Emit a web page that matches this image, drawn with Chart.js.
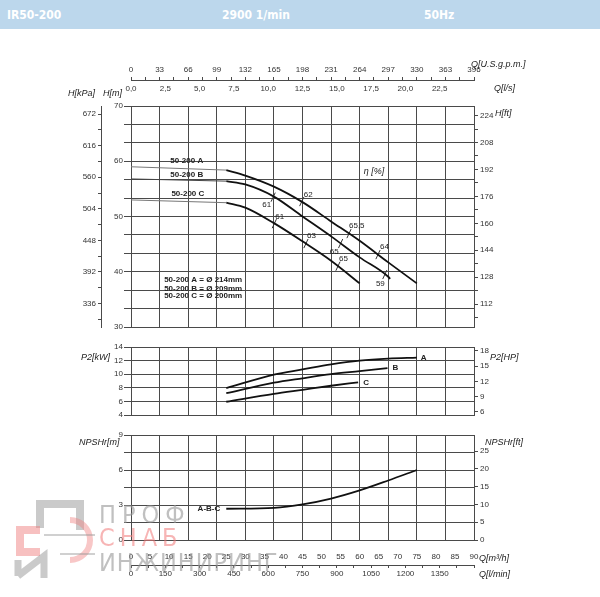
<!DOCTYPE html>
<html>
<head>
<meta charset="utf-8">
<script src="https://cdn.jsdelivr.net/npm/chart.js@4.4.0/dist/chart.umd.min.js"></script>
<style>
body { margin: 0; width: 600px; height: 597px; position: relative; background: #fff; overflow: hidden; }
#head { position: absolute; left: 0; top: 0; width: 600px; height: 29px; background: #bcd7ec; color: #fff;
        font: bold 12px "DejaVu Sans Condensed", "DejaVu Sans", sans-serif; }
#head span { position: absolute; top: 8px; }
canvas { position: absolute; left: 0; }
#wm { position: absolute; left: 0; top: 490px; width: 300px; height: 107px; pointer-events: none; }
#wm div { position: absolute; left: 99px; font: 25px "DejaVu Sans Condensed", "DejaVu Sans", sans-serif; line-height: 25px; }
</style>
</head>
<body>
<div id="head"><span style="left:7px">IR50-200</span><span style="left:222px">2900 1/min</span><span style="left:424px">50Hz</span></div>
<canvas id="cH" width="600" height="305" style="top:30px"></canvas>
<canvas id="cP" width="600" height="90" style="top:335px"></canvas>
<canvas id="cN" width="600" height="172" style="top:425px"></canvas>
<div id="wm">
  <svg width="100" height="107" style="position:absolute;left:0;top:0">
    <path d="M40 38 V14 H80 V40" fill="none" stroke="rgba(150,150,150,0.5)" stroke-width="8"/>
    <path d="M40 40 H20 V62 H40" fill="none" stroke="rgba(240,130,130,0.5)" stroke-width="8"/>
    <path d="M70 30 A16 16 0 1 1 70 70" fill="none" stroke="rgba(240,130,130,0.45)" stroke-width="6"/>
    <path d="M18 86 V70 M18 86 L44 66 V88" fill="none" stroke="rgba(150,150,150,0.5)" stroke-width="7"/>
    <path d="M44 45 H95 M60 64 H95" stroke="rgba(150,150,150,0.45)" stroke-width="2"/>
  </svg>
  <div style="top:12px;color:rgba(150,150,150,0.6);letter-spacing:6px">ПРОФ</div>
  <div style="top:35px;color:rgba(240,120,120,0.55);letter-spacing:5px">СНАБ</div>
  <div style="top:60px;color:rgba(150,150,150,0.6);letter-spacing:1px">ИНЖИНИРИНГ</div>
</div>
<script>
// ---- data (Q in m3/h) ----
var hShutoff = [59.0, 56.8, 53.0];          // H at Q=0 for A, B, C (thin part)

var qCurveA = [25, 30, 37.5, 45, 52.5, 60, 67.5, 75];
var hCurveA = [58.4, 57.4, 55.4, 52.6, 49.1, 45.6, 41.7, 37.9];
var qCurveB = [25, 30, 37.5, 45, 52.5, 60, 67.5, 68];
var hCurveB = [56.4, 55.8, 53.6, 50.0, 46.4, 42.6, 39.1, 38.7];
var qCurveC = [25, 30, 37.5, 45, 52.5, 60];
var hCurveC = [52.5, 51.6, 48.8, 45.5, 42.0, 37.9];

var effQ = [44.8, 57.2, 64.8, 37.3, 55.0, 66.6, 37.6, 45.9, 54.3];
var effH = [52.7, 46.9, 43.1, 53.5, 45.1, 39.5, 48.7, 45.1, 41.0];
var effText = ['62', '65,5', '64', '61', '65', '59', '61', '63', '65'];

var qPowerA = [25, 37.5, 45, 52.5, 60, 67.5, 75];
var pPowerA = [7.95, 9.95, 10.7, 11.45, 12.0, 12.3, 12.45];
var qPowerB = [25, 37.5, 45, 52.5, 60, 67.3];
var pPowerB = [7.2, 8.75, 9.4, 10.0, 10.45, 10.9];
var qPowerC = [25, 37.5, 45, 52.5, 59.6];
var pPowerC = [5.95, 7.1, 7.7, 8.3, 8.8];

var qNpsh = [25, 37.5, 45, 52.5, 60, 67.5, 75];
var nNpsh = [2.68, 2.76, 3.05, 3.55, 4.25, 5.1, 6.0];

var curveNames = ['50-200 A', '50-200 B', '50-200 C'];
var diameters = ['50-200 A = Ø 214mm', '50-200 B = Ø 209mm', '50-200 C = Ø 200mm'];

// ---- helpers ----
Chart.defaults.font.family = '"Liberation Sans", Arial, sans-serif';
Chart.defaults.font.size = 8;
Chart.defaults.color = '#333';
var GRID = '#4a4a4a';
var FONT = '"Liberation Sans", Arial, sans-serif';

function pts(xs, ys) { return xs.map(function (x, i) { return { x: x, y: ys[i] }; }); }
function range(a, b, st) { var r = []; for (var i = 0; a + i * st <= b + 1e-9; i++) r.push(+(a + i * st).toFixed(4)); return r; }
function isMult(v, m) { return Math.abs(v / m - Math.round(v / m)) < 1e-6; }
function size(w, h) { return function (s) { if (w != null) s.width = w; if (h != null) s.height = h; }; }
function setTicks(list) { return function (s) { s.ticks = list.map(function (v) { return { value: v }; }); }; }
function curve(data, color, width) {
  return { data: data, showLine: true, borderColor: color, borderWidth: width, pointRadius: 0, cubicInterpolationMode: 'monotone' };
}

var notes = {
  id: 'notes',
  afterDraw: function (chart, args, opts) {
    var ctx = chart.ctx;
    (opts.items || []).forEach(function (n) {
      var x = n.x, y = n.y;
      if (n.q != null) {
        x = chart.scales.x.getPixelForValue(n.q) + (n.dx || 0);
        y = chart.scales.y.getPixelForValue(n.v) + (n.dy || 0);
      }
      ctx.save();
      ctx.font = n.font || ('8px ' + FONT);
      ctx.fillStyle = '#222';
      ctx.textAlign = n.align || 'left';
      ctx.textBaseline = 'middle';
      ctx.fillText(n.t, x, y);
      ctx.restore();
    });
  }
};

var flowGrid = range(0, 90, 7.5);
function gridX() {
  return { type: 'linear', position: 'bottom', min: 0, max: 90, afterBuildTicks: setTicks(flowGrid), afterFit: size(null, 0),
           ticks: { display: false }, grid: { color: GRID, drawTicks: false }, border: { color: GRID } };
}
var base = { responsive: false, animation: false, plugins: { legend: { display: false }, tooltip: { enabled: false } } };
function opts(extra) { return Object.assign({}, base, extra); }

// ---- head curve ----
var effNudge = [[2, -7, 'left'], [0, -8, 'left'], [2, -8, 'left'], [-2, 8, 'right'], [-2, 8, 'right'], [0, 9, 'right'],
                [1, -7, 'left'], [1, -8, 'left'], [1, -7, 'left']];
var headNotes = [
  { t: 'Q[U.S.g.p.m.]', x: 471, y: 34, font: 'italic 9px ' + FONT },
  { t: 'Q[l/s]', x: 494, y: 58, font: 'italic 9px ' + FONT },
  { t: 'H[kPa]', x: 95, y: 63, align: 'right', font: 'italic 9px ' + FONT },
  { t: 'H[m]', x: 103, y: 63, font: 'italic 9px ' + FONT },
  { t: 'H[ft]', x: 495, y: 83, font: 'italic 9px ' + FONT },
  { t: 'η [%]', q: 61.1, v: 58.1, font: 'italic 9px ' + FONT },
  { t: curveNames[0], q: 10.3, v: 60.0, font: 'bold 8px ' + FONT },
  { t: curveNames[1], q: 10.3, v: 57.6, font: 'bold 8px ' + FONT },
  { t: curveNames[2], q: 10.6, v: 54.1, font: 'bold 8px ' + FONT },
  { t: diameters[0], q: 8.7, v: 38.5, font: 'bold 8px ' + FONT },
  { t: diameters[1], q: 8.7, v: 37.0, font: 'bold 8px ' + FONT },
  { t: diameters[2], q: 8.7, v: 35.6, font: 'bold 8px ' + FONT }
];
effText.forEach(function (t, i) {
  headNotes.push({ t: t, q: effQ[i], v: effH[i], dx: effNudge[i][0], dy: effNudge[i][1], align: effNudge[i][2] });
});

new Chart(document.getElementById('cH'), {
  type: 'scatter',
  data: { datasets: [
    curve([{ x: 0, y: hShutoff[0] }, { x: qCurveA[0], y: hCurveA[0] }], '#777', 1),
    curve([{ x: 0, y: hShutoff[1] }, { x: qCurveB[0], y: hCurveB[0] }], '#444', 1),
    curve([{ x: 0, y: hShutoff[2] }, { x: qCurveC[0], y: hCurveC[0] }], '#777', 1),
    curve(pts(qCurveA, hCurveA), '#111', 1.8),
    curve(pts(qCurveB, hCurveB), '#111', 1.8),
    curve(pts(qCurveC, hCurveC), '#111', 1.8),
    { data: pts(effQ, effH), pointStyle: 'line', pointRadius: 5, pointRotation: -65, borderColor: '#333', borderWidth: 1 }
  ] },
  options: opts({
    layout: { padding: { top: 0, bottom: 8, left: 0, right: 0 } },
    plugins: Object.assign({}, base.plugins, { notes: { items: headNotes } }),
    scales: {
      x: gridX(),
      lps: { axis: 'x', type: 'linear', position: 'top', weight: 0, min: 0, max: 25, afterFit: size(null, 26),
             afterBuildTicks: setTicks(range(0, 25, 2.5)),
             ticks: { autoSkip: false, maxRotation: 0, padding: 12, callback: function (v) { return v < 25 ? v.toFixed(1).replace('.', ',') : ''; } },
             grid: { drawOnChartArea: false, drawTicks: false }, border: { display: false } },
      gpm: { axis: 'x', type: 'linear', position: 'top', weight: 1, min: 0, max: 396, afterFit: size(null, 50),
             afterBuildTicks: setTicks(range(0, 396, 16.5)),
             ticks: { autoSkip: false, maxRotation: 0, padding: 2, callback: function (v) { return isMult(v, 33) ? String(v) : ''; } },
             grid: { drawOnChartArea: false, tickLength: 3, color: GRID }, border: { color: GRID } },
      y: { type: 'linear', position: 'left', weight: 0, min: 30, max: 70, afterFit: size(30, null),
           afterBuildTicks: setTicks(range(30, 70, 10 / 3)),
           ticks: { padding: 1, callback: function (v) { return isMult(v, 10) ? String(Math.round(v)) : ''; } },
           grid: { color: GRID, tickLength: 7 }, border: { color: GRID } },
      kpa: { axis: 'y', type: 'linear', position: 'left', weight: 1, min: 30 * 9.80665, max: 70 * 9.80665, afterFit: size(101, null),
             afterBuildTicks: setTicks(range(308, 672, 28)),
             ticks: { padding: 2, callback: function (v) { return isMult(v, 56) ? String(v) : ''; } },
             grid: { drawOnChartArea: false, tickLength: 3, color: GRID }, border: { color: GRID } },
      ft: { axis: 'y', type: 'linear', position: 'right', min: 30 / 0.3048, max: 70 / 0.3048, afterFit: size(126, null),
            afterBuildTicks: setTicks(range(104, 224, 8)),
            ticks: { padding: 2, callback: function (v) { return isMult(v, 16) ? String(v) : ''; } },
            grid: { drawOnChartArea: false, tickLength: 4, color: GRID }, border: { color: GRID } }
    }
  }),
  plugins: [notes]
});

// ---- power curve ----
new Chart(document.getElementById('cP'), {
  type: 'scatter',
  data: { datasets: [
    curve(pts(qPowerA, pPowerA), '#111', 1.8),
    curve(pts(qPowerB, pPowerB), '#111', 1.8),
    curve(pts(qPowerC, pPowerC), '#111', 1.8)
  ] },
  options: opts({
    layout: { padding: { top: 12, bottom: 10, left: 0, right: 0 } },
    plugins: Object.assign({}, base.plugins, { notes: { items: [
      { t: 'P2[kW]', x: 81, y: 22, font: 'italic 9px ' + FONT },
      { t: 'P2[HP]', x: 490, y: 22, font: 'italic 9px ' + FONT },
      { t: 'A', q: qPowerA[qPowerA.length - 1], v: pPowerA[pPowerA.length - 1], dx: 4, font: 'bold 8px ' + FONT },
      { t: 'B', q: qPowerB[qPowerB.length - 1], v: pPowerB[pPowerB.length - 1], dx: 5, font: 'bold 8px ' + FONT },
      { t: 'C', q: qPowerC[qPowerC.length - 1], v: pPowerC[pPowerC.length - 1], dx: 5, font: 'bold 8px ' + FONT }
    ] } }),
    scales: {
      x: gridX(),
      y: { type: 'linear', position: 'left', min: 4, max: 14, afterFit: size(131, null),
           afterBuildTicks: setTicks(range(4, 14, 2)),
           ticks: { padding: 1 }, grid: { color: GRID, tickLength: 7 }, border: { color: GRID } },
      hp: { axis: 'y', type: 'linear', position: 'right', min: 4 * 1.341, max: 14 * 1.341, afterFit: size(126, null),
            afterBuildTicks: setTicks(range(6, 18, 3)),
            ticks: { padding: 2 }, grid: { drawOnChartArea: false, tickLength: 4, color: GRID }, border: { color: GRID } }
    }
  }),
  plugins: [notes]
});

// ---- NPSH curve ----
new Chart(document.getElementById('cN'), {
  type: 'scatter',
  data: { datasets: [ curve(pts(qNpsh, nNpsh), '#111', 1.8) ] },
  options: opts({
    layout: { padding: { top: 10, bottom: 12, left: 0, right: 0 } },
    plugins: Object.assign({}, base.plugins, { notes: { items: [
      { t: 'NPSHr[m]', x: 79, y: 17, font: 'italic 9px ' + FONT },
      { t: 'NPSHr[ft]', x: 485, y: 17, font: 'italic 9px ' + FONT },
      { t: 'Q[m³/h]', x: 479, y: 133, font: 'italic 9px ' + FONT },
      { t: 'Q[l/min]', x: 479, y: 149, font: 'italic 9px ' + FONT },
      { t: 'A-B-C', q: qNpsh[0], v: nNpsh[0], dx: -6, align: 'right', font: 'bold 8px ' + FONT }
    ] } }),
    scales: {
      x: { type: 'linear', position: 'bottom', weight: 0, min: 0, max: 90, afterFit: size(null, 25),
           afterBuildTicks: setTicks(range(0, 90, 2.5)),
           ticks: { autoSkip: false, maxRotation: 0, padding: 12, callback: function (v) { return isMult(v, 5) ? String(v) : ''; } },
           grid: { drawTicks: false, color: function (c) { return c.tick && isMult(c.tick.value, 7.5) ? GRID : 'rgba(0,0,0,0)'; } },
           border: { color: GRID } },
      lmin: { axis: 'x', type: 'linear', position: 'bottom', weight: 1, min: 0, max: 1500, afterFit: size(null, 20),
              afterBuildTicks: setTicks(range(0, 1500, 75)),
              ticks: { autoSkip: false, maxRotation: 0, padding: 1, callback: function (v) { return isMult(v, 150) && v < 1500 ? String(v) : ''; } },
              grid: { drawOnChartArea: false, tickLength: 3, color: GRID }, border: { color: GRID } },
      y: { type: 'linear', position: 'left', min: 0, max: 9, afterFit: size(131, null),
           afterBuildTicks: setTicks(range(0, 9, 1.5)),
           ticks: { padding: 1, callback: function (v) { return isMult(v, 3) ? String(v) : ''; } },
           grid: { color: GRID, tickLength: 7 }, border: { color: GRID } },
      ftn: { axis: 'y', type: 'linear', position: 'right', min: 0, max: 9 / 0.3048, afterFit: size(126, null),
             afterBuildTicks: setTicks(range(0, 25, 5)),
             ticks: { padding: 2 }, grid: { drawOnChartArea: false, tickLength: 4, color: GRID }, border: { color: GRID } }
    }
  }),
  plugins: [notes]
});
</script>
</body>
</html>
